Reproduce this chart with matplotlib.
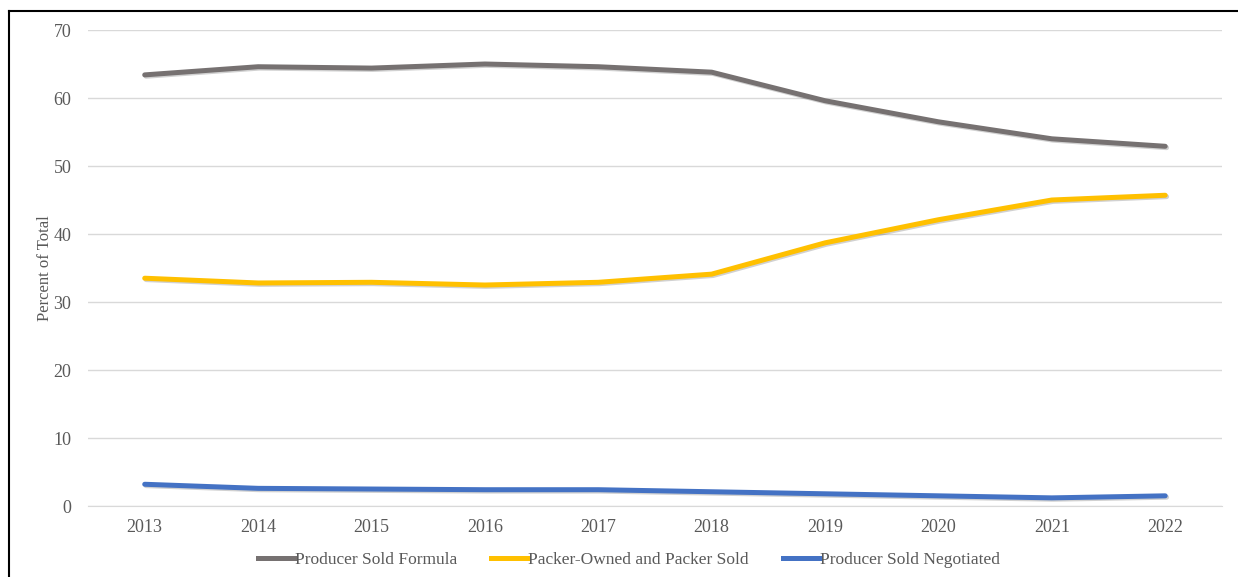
import matplotlib.pyplot as plt
import matplotlib.patheffects as pe
from matplotlib.lines import Line2D

plt.rcParams['font.family'] = ['Liberation Serif', 'DejaVu Serif']

years = ['2013', '2014', '2015', '2016', '2017', '2018', '2019', '2020', '2021', '2022']
formula = [63.4, 64.6, 64.4, 65.0, 64.6, 63.8, 59.6, 56.5, 54.0, 52.9]
packer = [33.5, 32.8, 32.9, 32.5, 32.9, 34.1, 38.7, 42.1, 45.0, 45.7]
negotiated = [3.2, 2.6, 2.5, 2.4, 2.4, 2.1, 1.8, 1.5, 1.2, 1.5]

series = [
    ('Producer Sold Formula', formula, '#767171'),
    ('Packer-Owned and Packer Sold', packer, '#FFC000'),
    ('Producer Sold Negotiated', negotiated, '#4472C4'),
]

fig = plt.figure(figsize=(12.38, 5.77), dpi=100)
ax = fig.add_axes([0.0711, 0.123, 0.9159, 0.825])

x = range(len(years))
shadow = [pe.SimpleLineShadow(offset=(1.0, -1.0), alpha=0.18, shadow_color='black'), pe.Normal()]
for name, vals, col in series:
    ax.plot(x, vals, color=col, lw=3.6, solid_capstyle='round', label=name, path_effects=shadow)

ax.set_xlim(-0.5, len(years) - 0.5)
ax.set_ylim(0, 70)
ax.set_yticks(range(0, 71, 10))
ax.set_xticks(list(x))
ax.set_xticklabels(years)
ax.yaxis.grid(True, color='#d9d9d9', lw=1)
ax.set_axisbelow(True)
for s in ['top', 'right', 'left']:
    ax.spines[s].set_visible(False)
ax.spines['bottom'].set_color('#d9d9d9')
ax.tick_params(axis='both', length=0, colors='#595959', labelsize=13, pad=9)
ax.tick_params(axis='y', pad=12)
ax.set_ylabel('Percent of Total', color='#595959', fontsize=12, labelpad=0)

handles = [Line2D([0], [0], color=c, lw=3.6) for _, _, c in series]
labels = [n for n, _, _ in series]
leg = fig.legend(handles, labels, loc='center', bbox_to_anchor=(0.508, 0.029), ncol=3, frameon=False,
                 fontsize=12.5, handlelength=2.1, handletextpad=0.0, columnspacing=2.0)
for t in leg.get_texts():
    t.set_color('#595959')

# outer frame line at the top and left
fig.add_artist(Line2D([0.0073, 0.0073], [0, 0.981], color='black', lw=1.5, transform=fig.transFigure))
fig.add_artist(Line2D([0.0073, 1.0], [0.981, 0.981], color='black', lw=1.5, transform=fig.transFigure))

fig.savefig('out.png', dpi=100)
